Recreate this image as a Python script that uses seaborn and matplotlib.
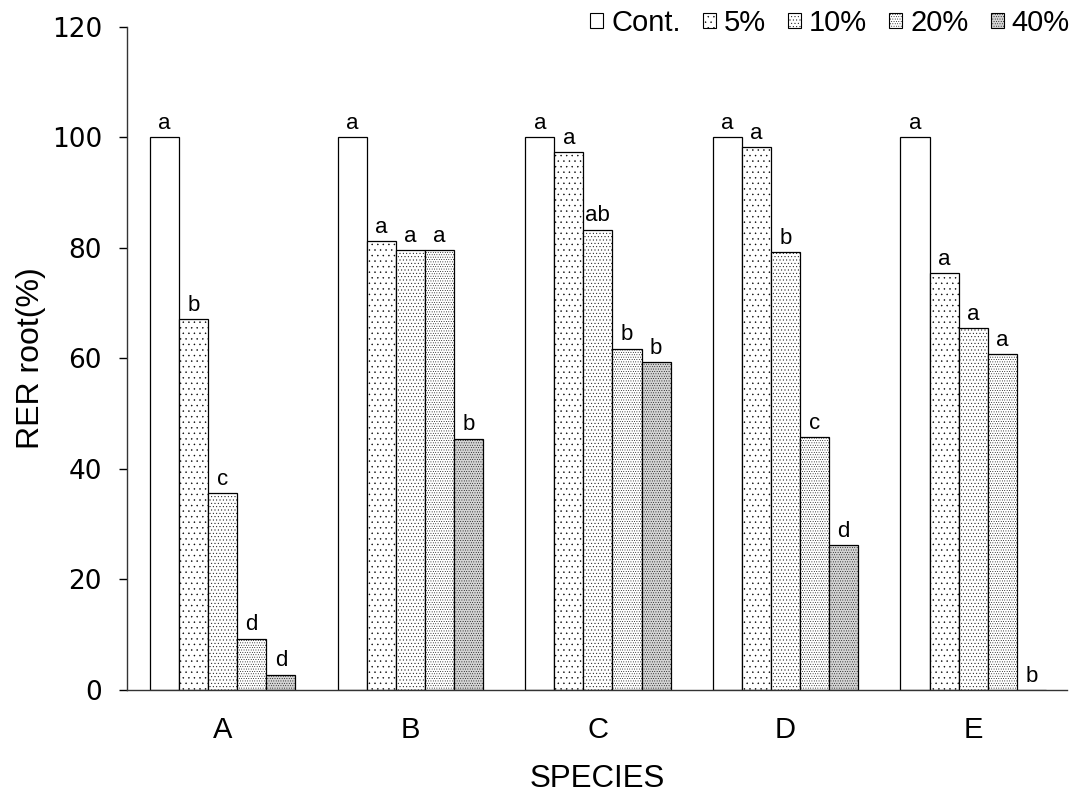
import matplotlib
matplotlib.use("Agg")
import matplotlib.pyplot as plt
import seaborn as sns
import pandas as pd
from matplotlib.patches import Patch

species = ["A", "B", "C", "D", "E"]
treatments = ["Cont.", "5%", "10%", "20%", "40%"]
vals_cont = [100, 100, 100, 100, 100]
vals_5 = [67.1, 81.2, 97.3, 98.3, 75.4]
vals_10 = [35.6, 79.6, 83.3, 79.2, 65.5]
vals_20 = [9.3, 79.6, 61.8, 45.7, 60.8]
vals_40 = [2.8, 45.5, 59.3, 26.2, 0.0]
letters_cont = ["a", "a", "a", "a", "a"]
letters_5 = ["b", "a", "a", "a", "a"]
letters_10 = ["c", "a", "ab", "b", "a"]
letters_20 = ["d", "a", "b", "c", "a"]
letters_40 = ["d", "b", "b", "d", "b"]

series = [vals_cont, vals_5, vals_10, vals_20, vals_40]
letters = [letters_cont, letters_5, letters_10, letters_20, letters_40]
rows = []
for t, vals, lets in zip(treatments, series, letters):
    for s, v, l in zip(species, vals, lets):
        rows.append({"SPECIES": s, "Treatment": t, "value": v, "letter": l})
df = pd.DataFrame(rows)

sns.set_style("white")
plt.rcParams['font.family'] = ['Liberation Sans', 'DejaVu Sans']
plt.rcParams['hatch.linewidth'] = 0.3
plt.rcParams['hatch.color'] = 'black'
plt.rcParams['text.color'] = 'black'
plt.rcParams['axes.labelcolor'] = 'black'
plt.rcParams['xtick.color'] = 'black'
plt.rcParams['ytick.color'] = 'black'

fig = plt.figure(figsize=(10.81, 7.94), dpi=100)
ax = fig.add_axes([0.1175, 0.131, 0.8695, 0.835])

hatches = ["", "...", ".....", ".......", "......."]
faces = ["white", "white", "white", "white", "#d4d4d4"]

sns.barplot(data=df, x="SPECIES", y="value", hue="Treatment", hue_order=treatments,
            order=species, width=0.775, ax=ax, palette=faces, edgecolor="black",
            linewidth=0.9, saturation=1, legend=False, errorbar=None)

for cont, h, fc, lets in zip(ax.containers, hatches, faces, letters):
    for bar, l in zip(cont, lets):
        bar.set_hatch(h)
        bar.set_facecolor(fc)
        x = bar.get_x() + bar.get_width() / 2
        y = bar.get_height()
        ax.text(x, y + 0.6, l, ha="center", va="bottom", fontsize=16, color="black")

ax.set_ylim(0, 120)
ax.set_xlim(-0.51, 4.5)
ax.set_yticks(range(0, 121, 20))
ax.tick_params(axis="y", direction="out", length=6, width=1, labelsize=19, left=True,
               pad=12, colors="black")
for lab in ax.get_yticklabels():
    lab.set_family("DejaVu Sans")
ax.tick_params(axis="x", length=0, labelsize=21, pad=19, colors="black")
ax.set_xlabel("SPECIES", fontsize=22.5, labelpad=14, color="black")
ax.set_ylabel("RER root(%)", fontsize=23, labelpad=4, color="black")
for s in ["top", "right"]:
    ax.spines[s].set_visible(False)
for s in ["left", "bottom"]:
    ax.spines[s].set_color("#333333")
    ax.spines[s].set_linewidth(1)

handles = [Patch(facecolor=fc, edgecolor="black", hatch=h, linewidth=0.8)
           for h, fc in zip(hatches, faces)]
leg = ax.legend(handles, treatments, loc="center right",
                bbox_to_anchor=(1070 / 1081, 1 - 23 / 794), bbox_transform=fig.transFigure,
                ncol=5, frameon=False, fontsize=21, handlelength=0.45, handleheight=0.45,
                handletextpad=0.28, columnspacing=0.75, borderpad=0, borderaxespad=0)
for t in leg.get_texts():
    t.set_color("black")

fig.savefig("out.png", dpi=100)
